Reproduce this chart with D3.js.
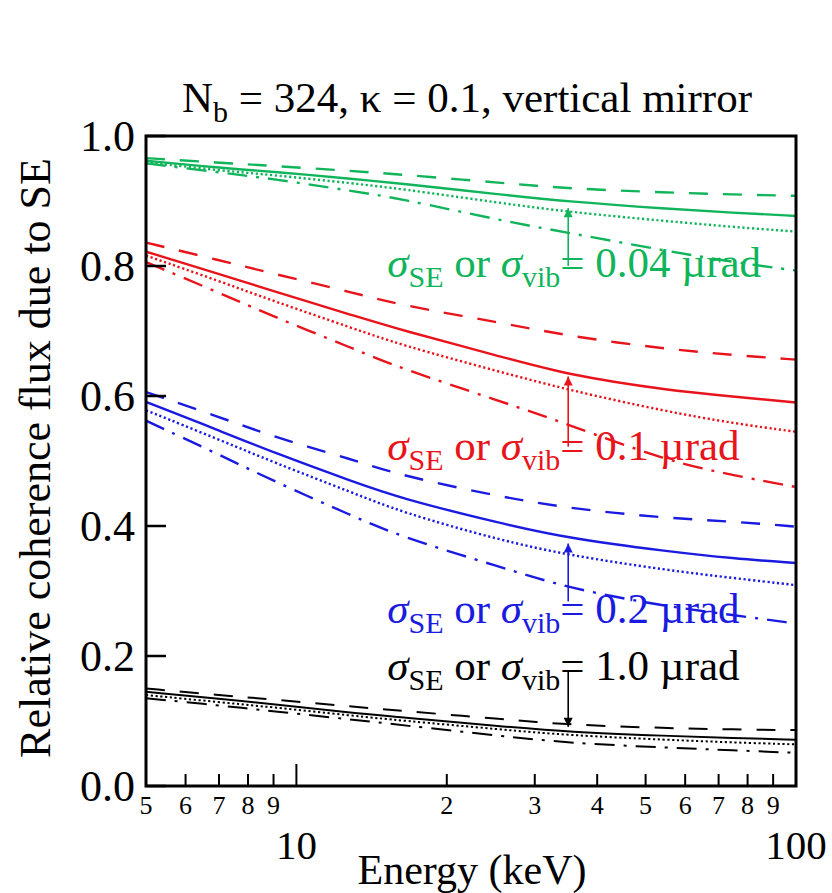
<!DOCTYPE html>
<html><head><meta charset="utf-8">
<script src="https://cdn.jsdelivr.net/npm/d3@7"></script>
<style>body{margin:0;background:#fff}</style>
</head><body>
<svg id="c" width="832" height="893"></svg>
<script>
const energies = [5, 7, 9, 13, 16.1, 25.6, 35.1, 55.2, 74.8, 100];
const greenDashed  = [0.966, 0.959, 0.954, 0.946, 0.941, 0.928, 0.919, 0.913, 0.910, 0.908];
const greenSolid   = [0.962, 0.951, 0.945, 0.934, 0.927, 0.910, 0.899, 0.888, 0.882, 0.877];
const greenDotted  = [0.960, 0.947, 0.940, 0.927, 0.919, 0.897, 0.883, 0.869, 0.860, 0.853];
const greenDashDot = [0.958, 0.944, 0.934, 0.915, 0.904, 0.870, 0.851, 0.823, 0.806, 0.793];
const redDashed  = [0.836, 0.809, 0.788, 0.759, 0.740, 0.713, 0.692, 0.672, 0.663, 0.656];
const redSolid   = [0.822, 0.788, 0.761, 0.724, 0.702, 0.661, 0.632, 0.609, 0.599, 0.590];
const redDotted  = [0.816, 0.777, 0.746, 0.704, 0.679, 0.637, 0.609, 0.576, 0.558, 0.545];
const redDashDot = [0.806, 0.759, 0.722, 0.673, 0.643, 0.592, 0.556, 0.500, 0.478, 0.460];
const blueDashed  = [0.606, 0.568, 0.537, 0.502, 0.478, 0.445, 0.427, 0.412, 0.407, 0.399];
const blueSolid   = [0.591, 0.547, 0.513, 0.468, 0.443, 0.404, 0.381, 0.361, 0.350, 0.343];
const blueDotted  = [0.578, 0.533, 0.498, 0.451, 0.422, 0.378, 0.355, 0.332, 0.320, 0.309];
const blueDashDot = [0.562, 0.510, 0.469, 0.415, 0.384, 0.337, 0.304, 0.276, 0.263, 0.250];
const blackDashed  = [0.150, 0.140, 0.133, 0.122, 0.116, 0.103, 0.094, 0.089, 0.087, 0.086];
const blackSolid   = [0.145, 0.134, 0.126, 0.112, 0.106, 0.092, 0.083, 0.077, 0.074, 0.071];
const blackDotted  = [0.140, 0.129, 0.121, 0.108, 0.101, 0.087, 0.078, 0.071, 0.067, 0.064];
const blackDashDot = [0.135, 0.124, 0.115, 0.102, 0.094, 0.077, 0.066, 0.059, 0.055, 0.051];

const groups = [
  {name:"green", color:"#10b45a", label:"0.04 µrad", labelY:0.783, arrow:[0.800, 0.889],
   series:[greenSolid, greenDashed, greenDotted, greenDashDot]},
  {name:"red", color:"#e8141c", label:"0.1 µrad", labelY:0.5015, arrow:[0.522, 0.630],
   series:[redSolid, redDashed, redDotted, redDashDot]},
  {name:"blue", color:"#1a1ae0", label:"0.2 µrad", labelY:0.251, arrow:[0.284, 0.373],
   series:[blueSolid, blueDashed, blueDotted, blueDashDot]},
  {name:"black", color:"#000000", label:"1.0 µrad", labelY:0.163, arrow:[0.178, 0.091],
   series:[blackSolid, blackDashed, blackDotted, blackDashDot]}
];
const styles = [null, "19,15", "2.2,2.6", "20,9,3,9"];
const arrowEnergy = 35;
const labelEnergy = 15.2;

const minorTickValues = [6,7,8,9,20,30,40,50,60,70,80,90];
const minorTickLabels = ["5","6","7","8","9","2","3","4","5","6","7","8","9"];
const minorLabelValues = [5,6,7,8,9,20,30,40,50,60,70,80,90];
const majorTickValues = [10];
const majorLabelValues = [10, 100];
const yTickValues = [0, 0.2, 0.4, 0.6, 0.8, 1.0];

const svg = d3.select("#c");
const L = 146, R = 796, T = 136, B = 786;
const x = d3.scaleLog().domain([5, 100]).range([L, R]);
const y = d3.scaleLinear().domain([0, 1]).range([B, T]);
const serif = "'Liberation Serif','Times New Roman',serif";

svg.append("defs").append("clipPath").attr("id","clip")
  .append("rect").attr("x",L).attr("y",T).attr("width",R-L).attr("height",B-T);
const defs = svg.select("defs");
groups.forEach(g => {
  defs.append("marker").attr("id","ah-"+g.name).attr("viewBox","0 0 10 10")
    .attr("refX",10).attr("refY",5).attr("markerWidth",14).attr("markerHeight",9)
    .attr("markerUnits","userSpaceOnUse").attr("orient","auto")
    .append("path").attr("d","M0,0 L10,5 L0,10 Z").attr("fill",g.color);
});

const line = d3.line().x(d => x(d[0])).y(d => y(d[1])).curve(d3.curveBasis);
const plot = svg.append("g").attr("clip-path","url(#clip)");
groups.forEach(g => {
  g.series.forEach((s, i) => {
    plot.append("path")
      .datum(energies.map((e, k) => [e, s[k]]))
      .attr("d", line).attr("fill","none").attr("stroke", g.color)
      .attr("stroke-width", g.name === "black" ? 2 : 2.4)
      .attr("stroke-dasharray", styles[i]);
  });
});

// arrows
groups.forEach(g => {
  svg.append("line")
    .attr("x1", x(arrowEnergy)).attr("x2", x(arrowEnergy))
    .attr("y1", y(g.arrow[0])).attr("y2", y(g.arrow[1]))
    .attr("stroke", g.color).attr("stroke-width", 1.6)
    .attr("marker-end", "url(#ah-"+g.name+")");
});

// labels
groups.forEach(g => {
  const t = svg.append("text").attr("x", x(labelEnergy)).attr("y", y(g.labelY))
    .attr("fill", g.color).attr("font-family", serif).attr("font-size", 43);
  t.append("tspan").attr("font-style","italic").text("σ");
  t.append("tspan").attr("font-size",30).attr("dy",10).text("SE");
  t.append("tspan").attr("dy",-10).text(" or ");
  t.append("tspan").attr("font-style","italic").text("σ");
  t.append("tspan").attr("font-size",30).attr("dy",10).text("vib");
  t.append("tspan").attr("dy",-10).text("= " + g.label);
});

// frame
svg.append("rect").attr("x",L).attr("y",T).attr("width",R-L).attr("height",B-T)
  .attr("fill","none").attr("stroke","#000").attr("stroke-width",3);

// x ticks (inward)
svg.append("g").selectAll("line").data(minorTickValues).join("line")
  .attr("x1", d => x(d)).attr("x2", d => x(d)).attr("y1", B).attr("y2", B - 12)
  .attr("stroke","#000").attr("stroke-width",2);
svg.append("g").selectAll("line").data(majorTickValues).join("line")
  .attr("x1", d => x(d)).attr("x2", d => x(d)).attr("y1", B).attr("y2", B - 22)
  .attr("stroke","#000").attr("stroke-width",2);
svg.append("g").selectAll("text").data(minorLabelValues).join("text")
  .attr("x", d => x(d)).attr("y", 814).attr("text-anchor","middle")
  .attr("font-family", serif).attr("font-size", 26)
  .text((d, i) => minorTickLabels[i]);
svg.append("g").selectAll("text").data(majorLabelValues).join("text")
  .attr("x", d => x(d)).attr("y", 859).attr("text-anchor","middle")
  .attr("font-family", serif).attr("font-size", 41).text(d => d);

// y ticks
svg.append("g").selectAll("line").data(yTickValues).join("line")
  .attr("x1", L).attr("x2", L + 20).attr("y1", d => y(d)).attr("y2", d => y(d))
  .attr("stroke","#000").attr("stroke-width",2.5);
svg.append("g").selectAll("text").data(yTickValues).join("text")
  .attr("x", 135).attr("y", d => y(d)).attr("dy","0.35em").attr("text-anchor","end")
  .attr("font-family", serif).attr("font-size", 44).text(d => d.toFixed(1));

// axis titles
svg.append("text").attr("x", 472).attr("y", 884).attr("text-anchor","middle")
  .attr("font-family", serif).attr("font-size", 42).text("Energy (keV)");
svg.append("text").attr("transform","translate(50,458) rotate(-90)").attr("text-anchor","middle")
  .attr("font-family", serif).attr("font-size", 44).text("Relative coherence flux due to SE");

// title
const tt = svg.append("text").attr("x", 467).attr("y", 112).attr("text-anchor","middle")
  .attr("font-family", serif).attr("font-size", 43);
tt.append("tspan").text("N");
tt.append("tspan").attr("font-size",30).attr("dy",10).text("b");
tt.append("tspan").attr("dy",-10).text(" = 324, κ = 0.1, vertical mirror");
</script>
</body></html>
